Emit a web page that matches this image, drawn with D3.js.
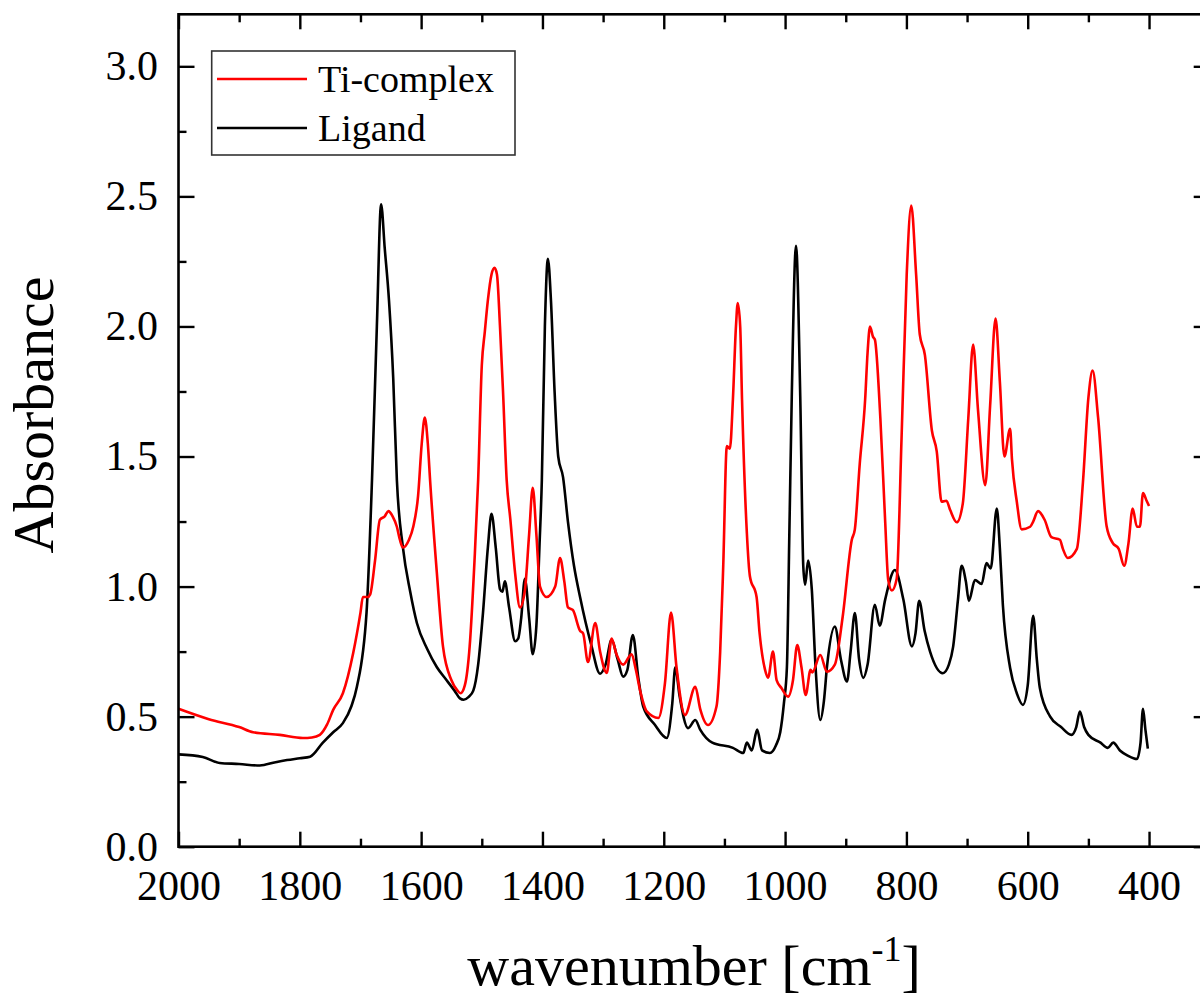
<!DOCTYPE html>
<html>
<head>
<meta charset="utf-8">
<script src="https://cdn.jsdelivr.net/npm/d3@7"></script>
<style>
  html, body { margin: 0; padding: 0; background: #fff; }
  svg { display: block; }
  text { font-family: "Liberation Serif", "Times New Roman", serif; fill: #000; }
</style>
</head>
<body>
<svg id="chart" width="1200" height="1003"></svg>
<script>
// ---------- data ----------
const seriesNames = ["Ti-complex", "Ligand"];
const seriesColors = ["#ff0000", "#000000"];

const tiWavenumber = [2000,1950,1900,1877,1833,1795,1780,1767,1755,1745,1729,1712,1700,1696,1688,1684,1676,1668,1660,1654,1647,1640,1635,1630,1620,1613,1605,1599,1594,1589,1585,1574,1564,1550,1540,1535,1528,1520,1512,1506,1500,1495,1490,1484,1479,1475,1470,1465,1459,1453,1445,1437,1429,1422,1416,1410,1404,1393,1379,1371,1364,1358,1350,1338,1333,1325,1313,1305,1294,1286,1278,1267,1253,1246,1239,1228,1209,1198,1188,1179,1165,1148,1140,1127,1113,1107,1102,1096,1091,1086,1081,1078,1074,1071,1063,1058,1047,1042,1033,1028,1020,1014,1006,995,987,980,973,966,958,955,942,931,918,905,890,885,877,868,864,860,855,852,843,835,830,824,816,808,799.5,792,784,778,769.5,758,750,742,734,728,717,707,698,690,682,670,662,653,646,638.5,629,626,618,610,596,591,583,572,561,547,542,534,519,509,500,493,484,470,460,450,441,434,427,420,415,410,404,400];
const tiAbsorbance = [0.53,0.49,0.46,0.44,0.43,0.418,0.42,0.43,0.47,0.526,0.59,0.745,0.90,0.96,0.96,0.97,1.10,1.257,1.27,1.29,1.27,1.23,1.18,1.15,1.18,1.23,1.35,1.55,1.65,1.55,1.40,1.05,0.77,0.64,0.60,0.59,0.62,0.77,1.10,1.41,1.85,1.98,2.10,2.20,2.225,2.20,2.0,1.75,1.41,1.26,1.05,0.92,0.985,1.2,1.38,1.2,1.0,0.96,1.0,1.11,1.02,0.92,0.91,0.83,0.82,0.71,0.86,0.75,0.668,0.80,0.74,0.70,0.74,0.68,0.60,0.52,0.495,0.63,0.90,0.69,0.506,0.615,0.53,0.468,0.54,0.75,1.077,1.54,1.53,1.72,2.0,2.09,2.0,1.72,1.205,1.04,0.96,0.82,0.68,0.65,0.75,0.64,0.61,0.577,0.64,0.775,0.69,0.583,0.68,0.67,0.737,0.673,0.70,0.885,1.18,1.22,1.47,1.72,1.90,2.0,1.96,1.95,1.65,1.25,1.026,0.985,1.03,1.57,2.20,2.465,2.20,1.97,1.89,1.60,1.52,1.326,1.33,1.295,1.247,1.32,1.646,1.93,1.68,1.39,1.695,2.03,1.79,1.50,1.607,1.49,1.326,1.22,1.23,1.25,1.29,1.256,1.19,1.18,1.145,1.11,1.145,1.40,1.725,1.83,1.65,1.233,1.168,1.145,1.08,1.165,1.30,1.23,1.23,1.36,1.33,1.31];

const ligWavenumber = [2000,1960,1932,1900,1866,1840,1821,1800,1783,1762,1745,1729,1715,1706,1690,1681,1673,1666,1660,1653,1646,1640,1630,1618,1607,1590,1574,1558,1545,1536,1530,1522,1514,1506,1498,1490,1484,1477,1470,1466,1462,1455,1445,1440,1435,1429,1422,1416,1410,1405,1401,1396,1391,1386,1380,1374,1366,1358,1348,1338,1320,1305,1296,1286,1276,1267,1260,1251,1242,1234,1215,1195,1186,1181,1174,1160,1148,1140,1120,1086,1069,1063,1055,1046,1038,1025,1015,1008,1002,997,993,989,982,975,970,967,962,956,950,942,936,931,918,908,898,892,885,878,871,864,852,844,835,819,805,791,785,779,770,761,740,730,723,715,709,702,697,687,676,668,661,651,646,641,629,618,608,600,591,585,580,563,545,528,520,514,507,500,480,468,459,448,435,420,414,410,406,402];
const ligAbsorbance = [0.355,0.345,0.322,0.318,0.312,0.325,0.333,0.34,0.346,0.40,0.44,0.475,0.54,0.614,0.90,1.41,2.0,2.47,2.30,2.10,1.80,1.41,1.15,0.98,0.86,0.76,0.69,0.64,0.60,0.57,0.565,0.575,0.60,0.70,0.90,1.15,1.28,1.15,0.99,0.98,1.02,0.92,0.79,0.80,0.88,1.03,0.88,0.74,0.85,1.15,1.41,2.0,2.26,2.1,1.75,1.50,1.42,1.25,1.08,0.96,0.78,0.665,0.70,0.795,0.72,0.654,0.68,0.814,0.65,0.54,0.47,0.418,0.55,0.69,0.58,0.456,0.487,0.45,0.40,0.38,0.36,0.40,0.37,0.45,0.37,0.36,0.39,0.44,0.55,0.69,1.2,1.73,2.31,1.73,1.077,1.007,1.10,0.99,0.70,0.487,0.56,0.69,0.846,0.72,0.635,0.75,0.898,0.72,0.649,0.70,0.93,0.85,0.95,1.064,0.95,0.77,0.82,0.945,0.83,0.75,0.667,0.70,0.768,0.95,1.08,1.02,0.945,1.025,1.01,1.09,1.07,1.30,1.15,0.93,0.687,0.59,0.545,0.62,0.888,0.72,0.61,0.50,0.46,0.43,0.46,0.52,0.46,0.43,0.40,0.38,0.40,0.37,0.35,0.337,0.40,0.53,0.45,0.377];

const xTickValues = [2000,1800,1600,1400,1200,1000,800,600,400];
const xMinorTickValues = [1900,1700,1500,1300,1100,900,700,500];
const yTickValues = [0,0.5,1.0,1.5,2.0,2.5,3.0];
const yMinorTickValues = [0.25,0.75,1.25,1.75,2.25,2.75];

// ---------- layout ----------
const svg = d3.select("#chart");
const pLeft = 178.5, pRight = 1209.7, pTop = 14.3, pBottom = 846.7;

const x = d3.scaleLinear().domain([2000, 300]).range([pLeft, pRight]);
const y = d3.scaleLinear().domain([0, 3.2]).range([pBottom, pTop]);

svg.append("defs").append("clipPath").attr("id", "clip")
  .append("rect").attr("x", pLeft).attr("y", pTop)
  .attr("width", pRight - pLeft).attr("height", pBottom - pTop);

// ---------- series ----------
const tiData = tiWavenumber.map((w, i) => [w, tiAbsorbance[i]]);
const ligData = ligWavenumber.map((w, i) => [w, ligAbsorbance[i]]);

const line = d3.line().x(d => x(d[0])).y(d => y(d[1])).curve(d3.curveMonotoneX);

const plot = svg.append("g").attr("clip-path", "url(#clip)");
plot.append("path").datum(ligData).attr("d", line)
  .attr("fill", "none").attr("stroke", seriesColors[1]).attr("stroke-width", 2.6)
  .attr("stroke-linejoin", "round");
plot.append("path").datum(tiData).attr("d", line)
  .attr("fill", "none").attr("stroke", seriesColors[0]).attr("stroke-width", 2.6)
  .attr("stroke-linejoin", "round");

// ---------- axes ----------
const fs = 42;
function styleAxis(g) {
  g.select(".domain").remove();
  g.selectAll(".tick line").attr("stroke", "#000").attr("stroke-width", 2.4);
  g.selectAll(".tick text").style("font-family", '"Liberation Serif", serif').style("font-size", fs + "px").attr("fill", "#000");
}

// bottom
svg.append("g").attr("transform", `translate(0,${pBottom})`)
  .call(d3.axisBottom(x).tickValues(xTickValues).tickSize(-15).tickPadding(23.5).tickFormat(d3.format("d")))
  .call(styleAxis);
svg.append("g").attr("transform", `translate(0,${pBottom})`)
  .call(d3.axisBottom(x).tickValues(xMinorTickValues).tickSize(-8).tickFormat(""))
  .call(styleAxis);
// top
svg.append("g").attr("transform", `translate(0,${pTop})`)
  .call(d3.axisTop(x).tickValues(xTickValues).tickSize(-15).tickFormat(""))
  .call(styleAxis);
svg.append("g").attr("transform", `translate(0,${pTop})`)
  .call(d3.axisTop(x).tickValues(xMinorTickValues).tickSize(-8).tickFormat(""))
  .call(styleAxis);
// left
svg.append("g").attr("transform", `translate(${pLeft},0)`)
  .call(d3.axisLeft(y).tickValues(yTickValues).tickSize(-16).tickPadding(20.5).tickFormat(d3.format(".1f")))
  .call(styleAxis);
svg.append("g").attr("transform", `translate(${pLeft},0)`)
  .call(d3.axisLeft(y).tickValues(yMinorTickValues).tickSize(-8).tickFormat(""))
  .call(styleAxis);
// right
svg.append("g").attr("transform", `translate(${pRight},0)`)
  .call(d3.axisRight(y).tickValues(yTickValues).tickSize(-16).tickFormat(""))
  .call(styleAxis);
svg.append("g").attr("transform", `translate(${pRight},0)`)
  .call(d3.axisRight(y).tickValues(yMinorTickValues).tickSize(-8).tickFormat(""))
  .call(styleAxis);

// frame
svg.append("rect").attr("x", pLeft).attr("y", pTop)
  .attr("width", pRight - pLeft).attr("height", pBottom - pTop)
  .attr("fill", "none").attr("stroke", "#000").attr("stroke-width", 2.6);

// ---------- titles ----------
const xt = svg.append("text").attr("x", (pLeft + pRight) / 2).attr("y", 985)
  .attr("text-anchor", "middle").style("font-size", "58px");
xt.append("tspan").text("wavenumber [cm");
xt.append("tspan").attr("dy", -24).style("font-size", "36px").text("-1");
xt.append("tspan").attr("dy", 24).text("]");

svg.append("text").attr("transform", "translate(53,415) rotate(-90)")
  .attr("text-anchor", "middle").style("font-size", "58px").text("Absorbance");

// ---------- legend ----------
const lg = svg.append("g");
lg.append("rect").attr("x", 211.7).attr("y", 51).attr("width", 303.3).attr("height", 104)
  .attr("fill", "#fff").attr("stroke", "#333").attr("stroke-width", 1.6);
const legendRows = [79, 128];
seriesNames.forEach((name, i) => {
  lg.append("line").attr("x1", 217).attr("x2", 307).attr("y1", legendRows[i]).attr("y2", legendRows[i])
    .attr("stroke", seriesColors[i]).attr("stroke-width", 2.6);
  lg.append("text").attr("x", 318).attr("y", legendRows[i] + 13)
    .style("font-size", "38px").text(name);
});
</script>
</body>
</html>
